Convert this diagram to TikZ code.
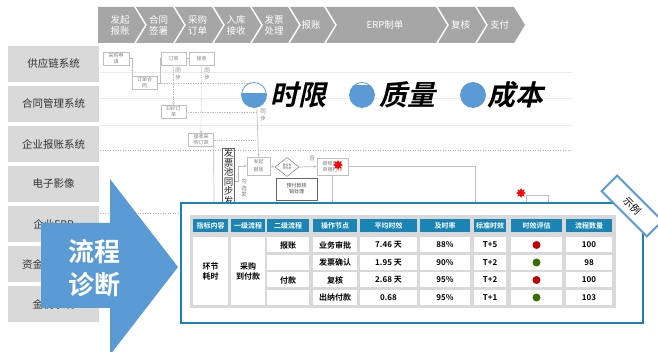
\documentclass[tikz,border=0pt]{standalone}
\usepackage{fontspec}
\setmainfont{Noto Sans CJK SC}[BoldFont={Noto Sans CJK SC Bold}]
\newfontfamily\slantfont[FakeSlant=0.22]{Noto Sans CJK SC Bold}
\usetikzlibrary{shapes.geometric,arrows.meta,positioning}

\definecolor{chevgray}{HTML}{A6A6A6}
\definecolor{sysgray}{HTML}{D9D9D9}
\definecolor{diagblue}{HTML}{5B9BD5}
\definecolor{framecol}{HTML}{1A85B4}
\definecolor{flowgray}{HTML}{BFBFBF}
\definecolor{flowtext}{HTML}{808080}
\definecolor{dotred}{HTML}{C00000}
\definecolor{dotgreen}{HTML}{3B6E00}

\tikzset{
  chevtext/.style={text=white, font=\fontsize{9.5}{11}\selectfont, align=center, inner sep=0},
  sysbox/.style={fill=sysgray, minimum width=91, minimum height=36, inner sep=0, text=black!80, font=\fontsize{10.5}{12}\selectfont},
  laneline/.style={draw=black!8, line width=0.5pt},
  lanedot/.style={draw=black!30, line width=0.5pt, dotted},
  flowbox/.style={draw=flowgray, fill=white, text=flowtext, font=\fontsize{5}{6}\selectfont, align=center, inner sep=0.5pt, minimum width=25, minimum height=13},
  darkbox/.style={flowbox, draw=black!60, text=black!70},
  flowline/.style={draw=flowgray, line width=0.7pt},
  syncline/.style={flowline, densely dotted},
  flowtip/.style={-{Stealth[length=3pt,width=2.5pt]}},
  flownote/.style={text=flowtext, font=\fontsize{5.5}{6.5}\selectfont, align=center, inner sep=0},
  redstar/.style={star, star points=8, star point ratio=1.8, fill=red, minimum size=10, inner sep=0},
  legdot/.style={circle, draw=diagblue, line width=0.8pt, fill=white, minimum size=25, inner sep=0},
  legtext/.style={font=\slantfont\fontsize{28}{28}\selectfont, inner sep=0, anchor=west},
  headcell/.style={fill=framecol, text=white, font=\bfseries\fontsize{7}{8}\selectfont, minimum height=13, inner sep=0},
  bodycell/.style={fill=white, font=\bfseries\fontsize{8}{9.5}\selectfont, minimum height=15, inner sep=0, align=center},
  evaldot/.style={circle, minimum size=8, inner sep=0}
}

\begin{document}
\begin{tikzpicture}[x=1pt,y=-1pt]
    % Definitions:
    \fill[white] (0,0) rectangle (658,352);
    \useasboundingbox (0,0) rectangle (658,352);
    \coordinate (syncTop) at (256,83);
    \coordinate (reviewCorner) at (475,166.5);
    \coordinate (reviewEnd) at (475,204);
    \coordinate (reviewDown) at (332.5,204);
    \coordinate (recpoDown) at (214,204);
    % Drawing: process bar
    \foreach \s/\r/\n/\lab [count=\i] in {98/134/0/{发起\\报账}, 136/173/11/{合同\\签署},
        175/212/11/{采购\\订单}, 214/250/11/{入库\\接收}, 252/288/11/{发票\\处理},
        290/324/11/报账, 326/436/11/ERP制单, 438/475/11/复核, 477/514/11/支付}{
      \fill[chevgray] (\s,7) -- (\r,7) -- (\r+11,25) -- (\r,43) -- (\s,43) -- (\s+\n,25) -- cycle;
      \node[chevtext] (stage\i) at ({(\s+\r)/2+4},25) {\lab};
    }
    % Drawing: systems
    \foreach \lab [count=\i] in {供应链系统, 合同管理系统, 企业报账系统, 电子影像, 企业ERP, 资金管理系统, 金税系统}
      \node[sysbox] (sys\i) at (53.5,{64+40*(\i-1)}) {\lab};
    % Drawing: faint flow chart behind
    \foreach \y in {72,98,125}
      \draw[laneline] (100,\y) -- (572,\y);
    \draw[lanedot] (100,150) -- (572,150);
    \draw[lanedot] (100,213) -- (180,213);
    \node[flowbox, minimum width=26] (apply) at (116,58.5) {采购申\\请};
    \node[flowbox] (contract) at (144.5,83) {订单合\\同};
    \node[flowbox] (order) at (173.5,58.5) {订单};
    \node[flowbox] (receive) at (201.5,58.5) {接收};
    \node[flowbox] (erp) at (173.5,112) {ERP订\\单};
    \node[flowbox] (recpo) at (201,140) {接收采\\购订单};
    \node[flowbox, minimum width=23, minimum height=18] (claim) at (258.5,166) {发起\\[2pt]报账};
    \node[darkbox, font=\fontsize{9.5}{9.5}\selectfont, text=black!85, minimum width=12, anchor=north] (pool) at (228.5,148) {发\\票\\池\\同\\步\\发\\票};
    \node[diamond, draw=black!60, fill=white, minimum width=24, minimum height=19, inner sep=0, aspect=1.2,
      font=\fontsize{3}{3.5}\selectfont, align=center, text=black!60] (prepay) at (287,167) {是否有\\预付款};
    \node[darkbox, minimum width=41, minimum height=22] (offset) at (296.5,189) {预付款核\\销处理};
    \node[flowbox, minimum width=31, minimum height=17] (review) at (332.5,166.5) {报账审核\\单据打印};
    \node[redstar] (star1) at (338,165) {};
    \node[flowbox, minimum width=22, minimum height=9, anchor=north west] (lowbox) at (526,195) {};
    \node[redstar] (star2) at (521,193) {};
    \node[flownote] (sync1) at (178,74) {同\\步};
    \node[flownote] (sync2) at (207,74) {同\\步};
    \node[flownote] (sync3) at (263,115) {同\\步};
    \node[flownote] (tick) at (244,188) {勾\\选\\发};
    \node[flownote] (no) at (312,159) {否};
    \draw[flowline] (apply.east) -- ++(3,0) |- (contract.west);
    \draw[flowline] (contract.east) -- ++(3,0) |- (order.west);
    \draw[flowline] (order.east) -- (receive.west);
    \draw[syncline, flowtip] (order.south) -- (erp.north);
    \draw[syncline, flowtip] (receive.south) -- (recpo.north);
    \draw[syncline] (contract.east) -- (contract.east -| syncTop);
    \draw[syncline] (erp.east) -- (erp.east -| syncTop);
    \draw[syncline] (recpo.east) -- (recpo.east -| syncTop);
    \draw[flowline, flowtip] (syncTop) -- (claim.north);
    \draw[flowline, flowtip] (pool.east) -- ++(4,0) |- (claim.west);
    \draw[flowline, flowtip] (claim.east) -- (prepay.west);
    \draw[flowline, flowtip] (prepay.east) -- (review.west);
    \draw[flowline] (review.east) -- (reviewCorner) -- (reviewEnd);
    \draw[flowline] (review.south) -- (reviewDown);
    \draw[flowline] (recpo.south east) -- (recpoDown);
    % Drawing: legend
    \node[legdot, path picture={\fill[diagblue] (path picture bounding box.south west)
      rectangle ([yshift=1.5pt]path picture bounding box.east);}] (limitDot) at (254,95) {};
    \node[legdot, path picture={\fill[diagblue] (path picture bounding box.south west)
      rectangle ([yshift=10pt]path picture bounding box.east);}] (qualityDot) at (362,95) {};
    \node[legdot, fill=diagblue] (costDot) at (473,95) {};
    \node[legtext] (limitTxt) at (270,95) {时限};
    \node[legtext] (qualityTxt) at (379,95) {质量};
    \node[legtext] (costTxt) at (487,95) {成本};
    % Drawing: big arrow
    \fill[diagblue] (41,223) -- (110,223) -- (110,179) -- (178,267) -- (110,355) -- (110,308) -- (41,308) -- cycle;
    \node[font=\bfseries\fontsize{26}{33}\selectfont, text=white, align=center, inner sep=0] (diagnose) at (94,268) {流程\\诊断};
    % Drawing: table
    \node[draw=framecol, line width=2pt, fill=white, minimum width=462, minimum height=120, inner sep=0] (frame) at (412,263) {};
    \node[fill=sysgray, minimum width=426, minimum height=93, inner sep=0] (tablebg) at (403,261.5) {};
    \foreach \x/\w/\lab [count=\i] in {210.5/35/指标内容, 248/34/一级流程, 288/42/二级流程, 335/44/操作节点,
        388.5/57/平均时效, 445/50/及时率, 490/32/标准时效, 536.5/51/时效评估, 589/46/流程数量}
      \node[headcell, minimum width=\w] (head\i) at (\x,225.5) {\lab};
    \node[bodycell, minimum width=35, minimum height=67.5] (kind) at (210.5,271.25) {环节\\耗时};
    \node[bodycell, minimum width=34, minimum height=67.5] (flow) at (248,271.25) {采购\\到付款};
    \foreach \y/\sub/\op/\avg/\rate/\std/\eval/\cnt [count=\r] in {
        245/报账/业务审批/7.46 天/88\%/T+5/dotred/100,
        262.5/{}/发票确认/1.95 天/90\%/T+2/dotgreen/98,
        280/付款/复核/2.68 天/95\%/T+2/dotred/100,
        297.5/{}/出纳付款/0.68/95\%/T+1/dotgreen/103}{
      \node[bodycell, minimum width=42] (sub\r) at (288,\y) {\sub};
      \node[bodycell, minimum width=44] (op\r) at (335,\y) {\op};
      \node[bodycell, minimum width=57] (avg\r) at (388.5,\y) {\avg};
      \node[bodycell, minimum width=50] (rate\r) at (445,\y) {\rate};
      \node[bodycell, minimum width=32] (std\r) at (490,\y) {\std};
      \node[bodycell, minimum width=51] (eval\r) at (536.5,\y) {};
      \node[evaldot, fill=\eval] (dot\r) at (eval\r) {};
      \node[bodycell, minimum width=46] (cnt\r) at (589,\y) {\cnt};
    }
    % Labels:
    \node[draw=diagblue, line width=2pt, fill=white, rotate=-45, minimum width=64, minimum height=22,
      inner sep=0, font=\fontsize{10}{12}\selectfont] (sample) at (632,206) {示例};
\end{tikzpicture}
\end{document}
